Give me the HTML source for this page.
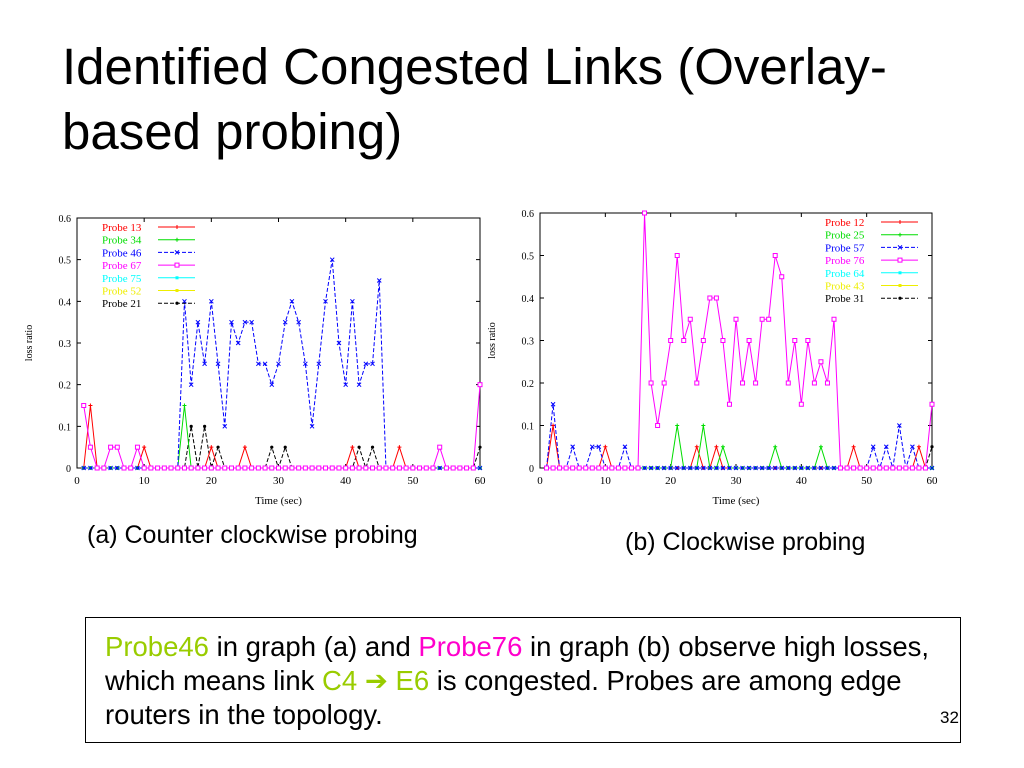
<!DOCTYPE html>
<html><head><meta charset="utf-8"><style>
body{margin:0;width:1024px;height:768px;background:#fff;overflow:hidden;font-family:"Liberation Sans",sans-serif}
svg{position:absolute;left:0;top:0}
.t{position:absolute;white-space:nowrap;color:#000}
</style></head><body>
<div class="t" style="left:62px;top:34px;font-size:51px;line-height:65px">Identified Congested Links (Overlay-<br>based probing)</div>
<div class="t" style="left:87px;top:521px;font-size:25px">(a) Counter clockwise probing</div>
<div class="t" style="left:625px;top:528px;font-size:25px">(b) Clockwise probing</div>
<div style="position:absolute;left:85px;top:617px;width:874px;height:124px;border:1px solid #000"></div>
<div class="t" style="left:105px;top:630px;font-size:27.5px;line-height:34px"><span style="color:#99cc00">Probe46</span> in graph (a) and <span style="color:#ff00cc">Probe76</span> in graph (b) observe high losses,<br>which means link <span style="color:#99cc00">C4</span> <span style="color:#99cc00">➔ E6</span> is congested. Probes are among edge<br>routers in the topology.</div>
<div class="t" style="left:940px;top:708px;font-size:17px">32</div>
<svg id="svg" width="1024" height="768"></svg>
<script>
const timesA=[1,2,3,4,5,6,7,8,9,10,11,12,13,14,15,16,17,18,19,20,21,22,23,24,25,26,27,28,29,30,31,32,33,34,35,36,37,38,39,40,41,42,43,44,45,46,47,48,49,50,51,52,53,54,55,56,57,58,59,60];
const yTicks=[0,0.1,0.2,0.3,0.4,0.5,0.6];
const xTicks=[0,10,20,30,40,50,60];
const a13=[0,.15,0,0,0,0,0,0,0,.05,0,0,0,0,0,0,0,0,0,.05,0,0,0,0,.05,0,0,0,0,0,0,0,0,0,0,0,0,0,0,0,.05,0,0,0,0,0,0,.05,0,0,0,0,0,0,0,0,0,0,0,0];
const a34=[0,0,0,0,0,0,0,0,0,0,0,0,0,0,0,.15,0,0,0,0,0,0,0,0,0,0,0,0,0,0,0,0,0,0,0,0,0,0,0,0,0,0,0,0,0,0,0,0,0,0,0,0,0,0,0,0,0,0,0,0];
const a46=[0,0,0,0,0,0,0,0,0,0,0,0,0,0,0,.4,.2,.35,.25,.4,.25,.1,.35,.3,.35,.35,.25,.25,.2,.25,.35,.4,.35,.25,.1,.25,.4,.5,.3,.2,.4,.2,.25,.25,.45,0,0,0,0,0,0,0,0,0,0,0,0,0,0,0];
const a67=[.15,.05,0,0,.05,.05,0,0,.05,0,0,0,0,0,0,0,0,0,0,0,0,0,0,0,0,0,0,0,0,0,0,0,0,0,0,0,0,0,0,0,0,0,0,0,0,0,0,0,0,0,0,0,0,.05,0,0,0,0,0,.2];
const a75=[0,0,0,0,0,0,0,0,0,0,0,0,0,0,0,0,0,0,0,0,0,0,0,0,0,0,0,0,0,0,0,0,0,0,0,0,0,0,0,0,0,0,0,0,0,0,0,0,0,0,0,0,0,0,0,0,0,0,0,0];
const a52=[0,0,0,0,0,0,0,0,0,0,0,0,0,0,0,0,0,0,0,0,0,0,0,0,0,0,0,0,0,0,0,0,0,0,0,0,0,0,0,0,0,0,0,0,0,0,0,0,0,0,0,0,0,0,0,0,0,0,0,0];
const a21=[0,0,0,0,0,0,0,0,0,0,0,0,0,0,0,0,.1,0,.1,0,.05,0,0,0,0,0,0,0,.05,0,.05,0,0,0,0,0,0,0,0,0,0,.05,0,.05,0,0,0,0,0,0,0,0,0,0,0,0,0,0,0,.05];
const b12=[0,.1,0,0,0,0,0,0,0,.05,0,0,0,0,0,0,0,0,0,0,0,0,0,.05,0,0,.05,0,0,0,0,0,0,0,0,0,0,0,0,0,0,0,0,0,0,0,0,.05,0,0,0,0,0,0,0,0,0,.05,0,0];
const b25=[0,0,0,0,0,0,0,0,0,0,0,0,0,0,0,0,0,0,0,0,.1,0,0,0,.1,0,0,.05,0,0,0,0,0,0,0,.05,0,0,0,0,0,0,.05,0,0,0,0,0,0,0,0,0,0,0,0,0,0,0,0,0];
const b57=[0,.15,0,0,.05,0,0,.05,.05,0,0,0,.05,0,0,0,0,0,0,0,0,0,0,0,0,0,0,0,0,0,0,0,0,0,0,0,0,0,0,0,0,0,0,0,0,0,0,0,0,0,.05,0,.05,0,.1,0,.05,0,0,0];
const b76=[0,0,0,0,0,0,0,0,0,0,0,0,0,0,0,.6,.2,.1,.2,.3,.5,.3,.35,.2,.3,.4,.4,.3,.15,.35,.2,.3,.2,.35,.35,.5,.45,.2,.3,.15,.3,.2,.25,.2,.35,0,0,0,0,0,0,0,0,0,0,0,0,0,0,.15];
const b64=a75.slice();
const b43=a52.slice();
const b31=[0,0,0,0,0,0,0,0,0,0,0,0,0,0,0,0,0,0,0,0,0,0,0,0,0,0,0,0,0,0,0,0,0,0,0,0,0,0,0,0,0,0,0,0,0,0,0,0,0,0,0,0,0,0,0,0,0,0,0,.05];
const namesA=["Probe 13","Probe 34","Probe 46","Probe 67","Probe 75","Probe 52","Probe 21"];
const namesB=["Probe 12","Probe 25","Probe 57","Probe 76","Probe 64","Probe 43","Probe 31"];

const NS="http://www.w3.org/2000/svg";
const svg=document.getElementById('svg');
function mk(tag,at,parent){const e=document.createElementNS(NS,tag);for(const k in at)e.setAttribute(k,at[k]);(parent||svg).appendChild(e);return e;}
const styles=[{c:"#f00",d:"",m:"plus"},{c:"#0d0",d:"",m:"plus"},{c:"#00f",d:"4,2",m:"x"},{c:"#f0f",d:"",m:"sq"},{c:"#0ff",d:"",m:"fsq"},{c:"#ee0",d:"",m:"fsq"},{c:"#000",d:"4,2",m:"dot"}];
function marker(g,m,x,y,c){
  if(m==="plus"){mk('path',{d:`M${x-2} ${y}h4M${x} ${y-2}v4`,stroke:c,'stroke-width':1,fill:'none'},g);}
  else if(m==="x"){mk('path',{d:`M${x-2} ${y-2}l4 4M${x+2} ${y-2}l-4 4`,stroke:c,'stroke-width':1,fill:'none'},g);}
  else if(m==="sq"){mk('rect',{x:x-2,y:y-2,width:4,height:4,stroke:c,fill:'#fff','stroke-width':1},g);}
  else if(m==="fsq"){mk('rect',{x:x-1.5,y:y-1.5,width:3,height:3,fill:c},g);}
  else {mk('circle',{cx:x,cy:y,r:1.6,fill:c},g);}
}
function chart(name,L,R,T,B,series,names,legX,legY){
  const g=mk('g',{});
  
  
  const xs=v=>L+(R-L)*v/60, ys=v=>B-(B-T)*v/0.6;
  const frame=mk('rect',{x:L,y:T,width:R-L,height:B-T,fill:'none',stroke:'#000','stroke-width':1},g);
  
  
  yTicks.forEach(v=>{const y=ys(v);
    mk('path',{d:`M${L} ${y}h4M${R} ${y}h-4`,stroke:'#000'},g);
    const t=mk('text',{x:L-6,y:y+4,'text-anchor':'end','font-size':10,'font-family':'Liberation Serif,serif'},g);t.textContent=v===0?"0":v.toFixed(1);
    
    });
  xTicks.forEach(v=>{const x=xs(v);
    mk('path',{d:`M${x} ${B}v-4M${x} ${T}v4`,stroke:'#000'},g);
    const t=mk('text',{x:x,y:B+16,'text-anchor':'middle','font-size':11,'font-family':'Liberation Serif,serif'},g);t.textContent=v;
    
    });
  const xt=mk('text',{x:(L+R)/2,y:B+36,'text-anchor':'middle','font-size':11,'font-family':'Liberation Serif,serif'},g);xt.textContent="Time (sec)";
  
  
  const yt=mk('text',{x:0,y:0,'text-anchor':'middle','font-size':10,'font-family':'Liberation Serif,serif',transform:`translate(${L-45},${(T+B)/2}) rotate(-90)`},g);yt.textContent="loss ratio";
  
  
  const order=[6,5,4,0,1,2,3];
  order.forEach(i=>{const s=styles[i],data=series[i];
    const pts=data.map((v,k)=>[xs(timesA[k]),ys(v)]);
    const p=mk('polyline',{points:pts.map(p=>p.join(',')).join(' '),fill:'none',stroke:s.c,'stroke-width':1,'stroke-dasharray':s.d},g);
    
    
    pts.forEach(q=>marker(g,s.m,q[0],q[1],s.c));});
  names.forEach((n,i)=>{const s=styles[i],y=legY+i*12.7;
    const t=mk('text',{x:legX,y:y+4,'font-size':11,'font-family':'Liberation Serif,serif',fill:s.c},g);t.textContent=n;
    
    
    mk('line',{x1:legX+56,x2:legX+93,y1:y,y2:y,stroke:s.c,'stroke-dasharray':s.d},g);
    marker(g,s.m,legX+75,y,s.c);});
}
chart('chart-a',77,480,218,468,[a13,a34,a46,a67,a75,a52,a21],namesA,102,227);
chart('chart-b',540,932,213,468,[b12,b25,b57,b76,b64,b43,b31],namesB,825,222);
</script>
</body></html>
